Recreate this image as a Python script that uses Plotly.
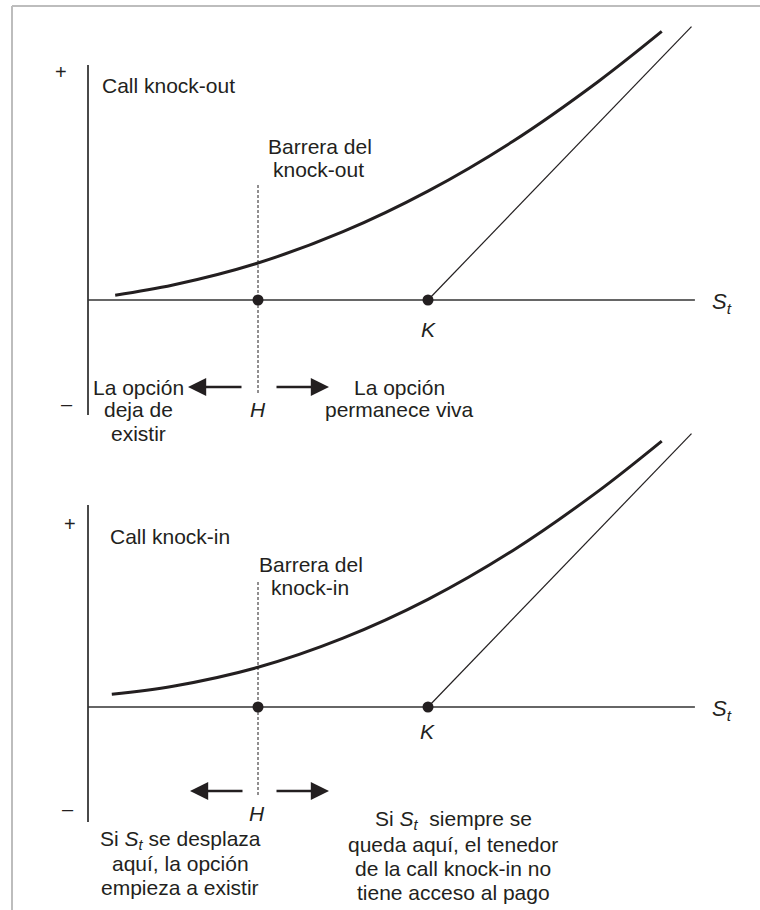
import plotly.graph_objects as go

# ============================================================================
# DATA  (conceptual units: S = underlying price, V = option value)
# ============================================================================

H = 40.0          # barrier
K = 80.0          # strike
s_axis_end = 142.8

# call knock-out value curve
s_knockout = [6.4, 20, 40, 60, 80, 100, 120, 135]
v_knockout = [1.1, 3.4, 8.4, 15.5, 24.7, 36.0, 49.5, 60.9]

# call knock-in value curve
s_knockin = [5.6, 20, 40, 60, 80, 100, 120, 135]
v_knockin = [2.9, 4.7, 9.0, 15.6, 24.4, 35.5, 48.9, 60.3]

# payoff at expiry (max(S-K, 0)) segment
s_payoff = [80, 142]
v_payoff = [0, 62]

# ============================================================================
# LAYOUT HELPERS (pixel geometry of the 760x910 page)
# ============================================================================

W, HGT = 760, 910
X0, SX = 88.0, 4.25          # pixel of S=0, pixels per S unit
SY = 4.41                    # pixels per V unit
Y0_TOP, Y0_BOT = 300.0, 707.0

FONT = "Liberation Sans, Arial, Helvetica, sans-serif"
INK = "#231f20"
FS = 21


def px(x, y):
    return x / W, 1 - y / HGT


def v_top(y):
    return (Y0_TOP - y) / SY


def v_bot(y):
    return (Y0_BOT - y) / SY


fig = go.Figure()


def line(x, y, yaxis, width, color=INK, dash=None):
    fig.add_trace(go.Scatter(
        x=x, y=y, mode="lines", xaxis="x" if yaxis == "y" else "x2", yaxis=yaxis,
        line=dict(color=color, width=width, dash=dash), hoverinfo="skip",
        showlegend=False,
    ))


# ---- top panel: knock-out ----
line([0, 0], [v_top(65), v_top(415)], "y", 2, "#4a4a4a")
line([0, s_axis_end], [0, 0], "y", 1.6, "#333333")
line([H, H], [v_top(185), v_top(393)], "y", 1, INK, "3px,2px")
line(s_payoff, v_payoff, "y", 1.2)
fig.add_trace(go.Scatter(
    x=s_knockout, y=v_knockout, mode="lines", line=dict(color=INK, width=3, shape="spline"),
    xaxis="x", yaxis="y", hoverinfo="skip", showlegend=False,
))
fig.add_trace(go.Scatter(
    x=[H, K], y=[0, 0], mode="markers", marker=dict(color=INK, size=11),
    xaxis="x", yaxis="y", hoverinfo="skip", showlegend=False, cliponaxis=False,
))

# ---- bottom panel: knock-in ----
line([0, 0], [v_bot(505), v_bot(822)], "y2", 2, "#4a4a4a")
line([0, s_axis_end], [0, 0], "y2", 1.6, "#333333")
line([H, H], [v_bot(582), v_bot(795)], "y2", 1, INK, "3px,2px")
line(s_payoff, v_payoff, "y2", 1.2)
fig.add_trace(go.Scatter(
    x=s_knockin, y=v_knockin, mode="lines", line=dict(color=INK, width=3, shape="spline"),
    xaxis="x2", yaxis="y2", hoverinfo="skip", showlegend=False,
))
fig.add_trace(go.Scatter(
    x=[H, K], y=[0, 0], mode="markers", marker=dict(color=INK, size=11),
    xaxis="x2", yaxis="y2", hoverinfo="skip", showlegend=False, cliponaxis=False,
))

# ---- text ----
annotations = []


def text(x, y, s, size=FS, anchor="center"):
    ax, ay = px(x, y)
    annotations.append(dict(
        x=ax, y=ay, xref="paper", yref="paper", text=s, showarrow=False,
        xanchor=anchor, yanchor="middle", font=dict(family=FONT, size=size, color=INK),
    ))


def arrow(x_tip, x_tail, y):
    ax, ay = px(x_tip, y)
    annotations.append(dict(
        x=ax, y=ay, xref="paper", yref="paper", text="", showarrow=True,
        ax=x_tail - x_tip, ay=0, arrowhead=2, arrowsize=1.4, arrowwidth=2.6,
        arrowcolor=INK, standoff=0, startstandoff=0,
    ))


ST = "<i>S</i><sub><i>t</i></sub>"

# top
text(61, 72, "+", 20)
text(100, 85, "Call knock-out", FS, "left")
text(320, 147, "Barrera del")
text(318, 169, "knock-out")
text(428, 329, "<i>K</i>")
text(722, 303, ST, 22)
text(138, 387, "La opción")
text(138, 410, "deja de")
text(138, 433, "existir")
text(258, 410, "<i>H</i>")
text(399, 387, "La opción")
text(399, 410, "permanece viva")
text(67, 404, "–", 20)
arrow(188, 243, 387)
arrow(329, 275, 387)

# bottom
text(70, 524, "+", 20)
text(108, 536, "Call knock-in", FS, "left")
text(311, 564, "Barrera del")
text(310, 587, "knock-in")
text(427, 731, "<i>K</i>")
text(722, 710, ST, 22)
text(257, 813, "<i>H</i>")
text(68, 809, "–", 20)
arrow(190, 244, 791)
arrow(329, 275, 791)
text(180, 840, "Si " + ST + " se desplaza")
text(180, 863, "aquí, la opción")
text(180, 887, "empieza a existir")
text(453, 820, "Si " + ST + "  siempre se")
text(453, 844, "queda aquí, el tenedor")
text(453, 868, "de la call knock-in no")
text(453, 892, "tiene acceso al pago")

# outer frame: grey rule along the top and down the left side
fx0, fy0 = px(12, 6)
shapes = [
    dict(type="line", xref="paper", yref="paper", x0=fx0, x1=1, y0=fy0, y1=fy0,
         line=dict(color="#bdbdbd", width=2), layer="above"),
    dict(type="line", xref="paper", yref="paper", x0=fx0, x1=fx0, y0=0, y1=fy0,
         line=dict(color="#bdbdbd", width=2), layer="above"),
]

xr = [(0 - X0) / SX, (W - X0) / SX]
hidden = dict(visible=False, fixedrange=True)
fig.update_layout(
    width=W, height=HGT, margin=dict(l=0, r=0, t=0, b=0),
    paper_bgcolor="white", plot_bgcolor="rgba(0,0,0,0)",
    xaxis=dict(range=xr, domain=[0, 1], anchor="y", **hidden),
    xaxis2=dict(range=xr, domain=[0, 1], anchor="y2", **hidden),
    yaxis=dict(range=[v_top(910 * 0.55), v_top(0)], domain=[0.45, 1], anchor="x", **hidden),
    yaxis2=dict(range=[v_bot(910), v_bot(910 * 0.45)], domain=[0, 0.55], anchor="x2", **hidden),
    annotations=annotations, shapes=shapes, showlegend=False,
)

# drop the browser's default body margin so the 760x910 figure fills the window
fig.write_html(
    "out.html",
    config={"displayModeBar": False},
    post_script="document.body.style.margin='0';document.body.style.overflow='hidden';",
)
